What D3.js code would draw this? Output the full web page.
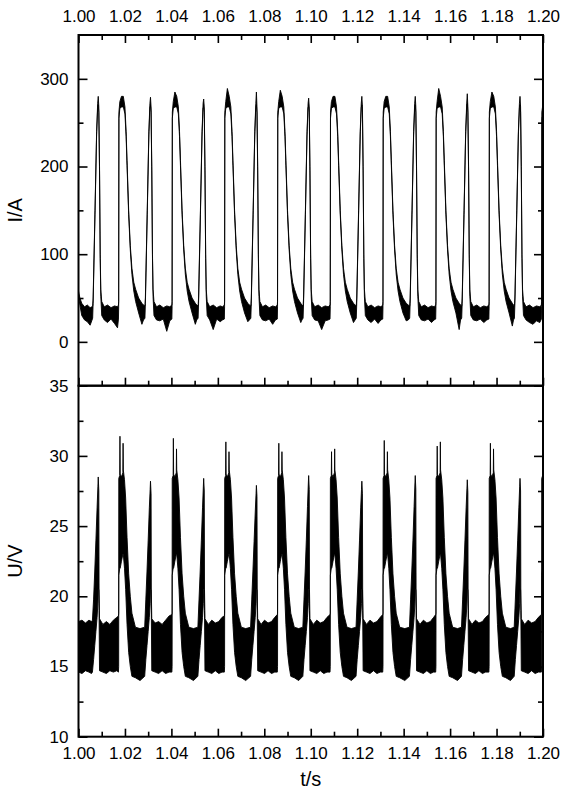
<!DOCTYPE html>
<html><head><meta charset="utf-8">
<script src="https://cdn.jsdelivr.net/npm/d3@7/dist/d3.min.js"></script>
<style>
html,body{margin:0;padding:0;background:#fff;}
svg{display:block;font-family:"Liberation Sans",Arial,Helvetica,sans-serif;}
</style></head>
<body>
<svg id="chart" width="563" height="800"></svg>
<script>
// ---------- tick definitions ----------
const xMajorTicks = [1.00,1.02,1.04,1.06,1.08,1.10,1.12,1.14,1.16,1.18,1.20];
const xTickLabels = ["1.00","1.02","1.04","1.06","1.08","1.10","1.12","1.14","1.16","1.18","1.20"];
const xMinorTicks = [1.01,1.03,1.05,1.07,1.09,1.11,1.13,1.15,1.17,1.19];
const currentMajorTicks = [0,100,200,300];
const currentMinorTicks = [50,150,250];
const voltageMajorTicks = [10,15,20,25,30,35];
const voltageMinorTicks = [12.5,17.5,22.5,27.5,32.5];

// ---------- current trace: [ms after 1.00 s, min I/A, max I/A] ----------
const currentTrace = [
[0,52,58],[0.6,42,50],[1.4,30,44],[2.6,25,40],[3.8,23,42],[5.0,19,39],[5.7,24,40],
[6.1,27,41],[6.3,44,50],[7.1,145,150],[7.8,236,240],[8.25,267,272],[8.5,270,280],[8.75,262,268],[9.05,195,200],[9.35,95,100],[9.6,52,60],[10.0,30,46],
[11.1,25,40],[12.5,22,42],[14.0,26,39],[15.5,21,41],[16.8,16,40],
[17.2,26,42],[17.3,40,46],[17.4,255,262],[17.8,266,274],[18.5,268,280],[19.3,268,280],[20.0,260,268],[20.5,234,240],[20.9,201,207],[21.6,145,150],[22.3,105,110],[23.0,77,84],[23.8,58,68],[24.6,46,60],[25.9,33,50],[27.3,20,44],[28.0,25,42],
[28.6,27,41],[28.8,44,50],[29.6,145,150],[30.3,236,240],[30.75,267,272],[31.0,269,279],[31.25,262,268],[31.55,195,200],[31.85,95,100],[32.1,52,60],[32.5,30,46],
[33.6,25,40],[35.0,24,42],[36.5,26,39],[38.0,12,41],[39.3,24,40],
[40.2,26,42],[40.3,40,46],[40.4,255,262],[40.8,266,274],[41.5,268,285],[42.3,268,280],[43.0,260,268],[43.5,234,240],[43.9,201,207],[44.6,145,150],[45.3,105,110],[46.0,77,84],[46.8,58,68],[47.6,46,60],[48.9,33,50],[50.3,20,44],[50.9,25,42],
[51.5,27,41],[51.7,44,50],[52.5,145,150],[53.2,236,240],[53.65,267,272],[53.9,267,277],[54.15,262,268],[54.45,195,200],[54.75,95,100],[55.0,52,60],[55.4,30,46],
[56.5,25,40],[58.0,14,42],[59.5,26,39],[61.0,23,41],[62.0,25,40],
[62.8,26,42],[62.9,40,46],[63.0,255,262],[63.4,266,274],[64.1,268,289],[64.9,268,280],[65.6,260,268],[66.1,234,240],[66.5,201,207],[67.2,145,150],[67.9,105,110],[68.6,77,84],[69.4,58,68],[70.2,46,60],[71.5,33,50],[72.9,23,44],[73.6,25,42],
[74.2,27,41],[74.4,44,50],[75.2,145,150],[75.9,236,240],[76.35,267,272],[76.6,270,285],[76.85,262,268],[77.15,195,200],[77.45,95,100],[77.7,52,60],[78.1,30,46],
[79.2,25,40],[80.6,24,42],[82.1,26,39],[83.6,20,41],[84.8,25,40],
[85.6,26,42],[85.7,40,46],[85.8,255,262],[86.2,266,274],[86.9,268,287],[87.7,268,280],[88.4,260,268],[88.9,234,240],[89.3,201,207],[90.0,145,150],[90.7,105,110],[91.4,77,84],[92.2,58,68],[93.0,46,60],[94.3,33,50],[95.7,22,44],[96.2,25,42],
[96.7,27,41],[96.9,44,50],[97.7,145,150],[98.4,236,240],[98.85,267,272],[99.1,268,278],[99.35,262,268],[99.65,195,200],[99.95,95,100],[100.2,52,60],[100.6,30,46],
[101.7,25,40],[103.2,24,42],[104.7,14,39],[106.2,24,41],[107.5,25,40],
[108.3,26,42],[108.4,40,46],[108.5,255,262],[108.9,266,274],[109.6,268,280],[110.4,268,280],[111.1,260,268],[111.6,234,240],[112.0,201,207],[112.7,145,150],[113.4,105,110],[114.1,77,84],[114.9,58,68],[115.7,46,60],[117.0,33,50],[118.4,22,44],[119.1,25,42],
[119.6,27,41],[119.8,44,50],[120.6,145,150],[121.3,236,240],[121.75,267,272],[122.0,270,280],[122.25,262,268],[122.55,195,200],[122.85,95,100],[123.1,52,60],[123.5,30,46],
[124.6,25,40],[126.0,22,42],[127.5,26,39],[129.0,21,41],[130.2,25,40],
[131.0,26,42],[131.1,40,46],[131.2,255,262],[131.6,266,274],[132.3,268,280],[133.1,268,280],[133.8,260,268],[134.3,234,240],[134.7,201,207],[135.4,145,150],[136.1,105,110],[136.8,77,84],[137.6,58,68],[138.4,46,60],[139.7,33,50],[141.1,24,44],[142.0,25,42],
[142.6,27,41],[142.8,44,50],[143.6,145,150],[144.3,236,240],[144.75,267,272],[145.0,270,280],[145.25,262,268],[145.55,195,200],[145.85,95,100],[146.1,52,60],[146.5,30,46],
[147.6,25,40],[149.0,24,42],[150.5,26,39],[152.0,22,41],[153.1,25,40],
[153.8,26,42],[153.9,40,46],[154.0,255,262],[154.4,266,274],[155.1,268,289],[155.9,268,280],[156.6,260,268],[157.1,234,240],[157.5,201,207],[158.2,145,150],[158.9,105,110],[159.6,77,84],[160.4,58,68],[161.2,46,60],[162.5,33,50],[163.9,14,44],[164.5,25,42],
[165.0,27,41],[165.2,44,50],[166.0,145,150],[166.7,236,240],[167.15,267,272],[167.4,272,283],[167.65,262,268],[167.95,195,200],[168.25,95,100],[168.5,52,60],[168.9,30,46],
[170.0,25,40],[171.5,24,42],[173.0,26,39],[174.5,22,41],[175.8,25,40],
[176.7,26,42],[176.8,40,46],[176.9,255,262],[177.3,266,274],[178.0,268,285],[178.8,268,280],[179.5,260,268],[180.0,234,240],[180.4,201,207],[181.1,145,150],[181.8,105,110],[182.5,77,84],[183.3,58,68],[184.1,46,60],[185.4,33,50],[186.8,18,44],[187.3,25,42],
[187.7,27,41],[187.9,44,50],[188.7,145,150],[189.4,236,240],[189.85,267,272],[190.1,270,280],[190.35,262,268],[190.65,195,200],[190.95,95,100],[191.2,52,60],[191.6,30,46],
[192.7,25,40],[194.2,22,42],[195.7,20,39],[197.2,24,41],[198.6,22,40],
[199.3,26,42],[199.4,40,46],[199.5,255,262],[199.9,258,270],[200.0,260,268]
];

// ---------- voltage trace: [ms after 1.00 s, min U/V, max U/V] ----------
const voltageTrace = [
[0,14.6,18.2],[1.5,14.5,18.3],[3.0,14.7,18.1],[4.5,14.6,18.3],[5.6,14.5,18.2],
[6.0,14.6,18.3],[6.5,15.5,19.8],[7.0,16.5,21.8],[7.5,17.5,24.0],[8.0,18.5,26.3],[8.35,19.5,27.8],[8.5,20.5,28.5],[8.75,20.5,27.5],[8.85,19.0,20.5],[9.05,14.7,18.4],
[10.5,14.6,18.0],[12.0,14.5,18.2],[13.5,14.7,18.0],[15.0,14.6,18.3],[16.5,14.7,18.5],[17.2,14.6,18.6],
[17.3,15.0,18.8],[17.35,21.5,28.4],[17.75,22,28.6],[17.85,22,31.4],[17.95,22,28.7],[18.5,22.5,28.5],[19.1,23,28.8],[19.2,23,30.9],[19.3,23,29],[19.8,22,28.3],[20.3,20.5,27],[20.9,18,24.2],[21.6,16,21.6],[22.3,15,20],[23.0,14.3,18.8],[24.5,14.2,17.8],[26.5,14.0,17.7],
[28.5,14.3,17.8],[29.0,15.5,19.8],[29.5,16.5,21.8],[30.0,17.5,24.0],[30.5,18.5,26.3],[30.85,19.5,27.6],[31.0,20.5,28.2],[31.25,20.5,27.3],[31.35,19.0,20.5],[31.55,14.7,18.4],
[33.0,14.6,18.1],[34.5,14.5,18.2],[36.0,14.7,18.0],[37.5,14.5,18.3],[39.0,14.6,18.6],[40.2,14.6,18.7],
[40.3,15,18.8],[40.35,21.5,28.4],[40.75,22,28.6],[40.85,22,31.25],[40.95,22,28.7],[41.5,22.5,28.5],[42.1,23,28.8],[42.2,23,30.5],[42.3,23,29],[42.8,22,28.3],[43.3,20.5,27],[43.9,18,24.2],[44.6,16,21.6],[45.3,15,20],[46.0,14.3,18.8],[47.5,14.2,17.8],[49.5,14.0,17.7],
[51.4,14.3,17.8],[51.9,15.5,19.8],[52.4,16.5,21.8],[52.9,17.5,24.0],[53.4,18.5,26.3],[53.75,19.5,27.8],[53.9,20.5,28.4],[54.15,20.5,27.5],[54.25,19,20.5],[54.45,14.7,18.4],
[55.9,14.6,18.0],[57.4,14.5,18.3],[58.9,14.7,18.1],[60.4,14.5,18.2],[61.8,14.6,18.5],[62.8,14.6,18.6],
[62.9,15,18.8],[62.95,21.5,28.4],[63.35,22,28.6],[63.45,22,31.0],[63.55,22,28.7],[64.1,22.5,28.5],[64.7,23,28.8],[64.8,23,30.3],[64.9,23,29],[65.4,22,28.3],[65.9,20.5,27],[66.5,18,24.2],[67.2,16,21.6],[67.9,15,20],[68.6,14.3,18.8],[70.1,14.2,17.8],[72.0,14.0,17.7],
[74.1,14.3,17.8],[74.6,15.5,19.8],[75.1,16.5,21.8],[75.6,17.5,23.9],[76.1,18.5,26.0],[76.45,19.5,27.3],[76.6,20.5,27.9],[76.85,20.5,27.1],[76.95,19,20.5],[77.15,14.7,18.4],
[78.6,14.6,18.0],[80.1,14.5,18.3],[81.6,14.7,18.1],[83.1,14.5,18.2],[84.5,14.6,18.5],[85.6,14.6,18.7],
[85.7,15,18.8],[85.75,21.5,28.4],[86.15,22,28.6],[86.25,22,30.9],[86.35,22,28.7],[86.9,22.5,28.5],[87.5,23,28.8],[87.6,23,30.3],[87.7,23,29],[88.2,22,28.3],[88.7,20.5,27],[89.3,18,24.2],[90.0,16,21.6],[90.7,15,20],[91.4,14.3,18.8],[92.9,14.2,17.8],[94.8,14.0,17.7],
[96.6,14.3,17.8],[97.1,15.5,19.8],[97.6,16.5,21.8],[98.1,17.5,24.0],[98.6,18.5,26.4],[98.95,19.5,28.0],[99.1,20.5,28.6],[99.35,20.5,27.6],[99.45,19,20.5],[99.65,14.7,18.4],
[101.1,14.6,18.0],[102.6,14.5,18.3],[104.1,14.7,18.1],[105.6,14.5,18.2],[107.0,14.6,18.5],[108.3,14.6,18.7],
[108.4,15,18.8],[108.45,21.5,28.4],[108.85,22,28.6],[108.95,22,30.3],[109.05,22,28.7],[109.6,22.5,28.5],[110.2,23,28.8],[110.3,23,30.5],[110.4,23,29],[110.9,22,28.3],[111.4,20.5,27],[112.0,18,24.2],[112.7,16,21.6],[113.4,15,20],[114.1,14.3,18.8],[115.6,14.2,17.8],[117.5,14.0,17.7],
[119.5,14.3,17.8],[120.0,15.5,19.8],[120.5,16.5,21.8],[121.0,17.5,24.0],[121.5,18.5,26.3],[121.85,19.5,27.6],[122.0,20.5,28.2],[122.25,20.5,27.3],[122.35,19,20.5],[122.55,14.7,18.4],
[124.0,14.6,18.0],[125.5,14.5,18.3],[127.0,14.7,18.1],[128.5,14.5,18.2],[129.9,14.6,18.5],[131.0,14.6,18.7],
[131.1,15,18.8],[131.15,21.5,28.4],[131.55,22,28.6],[131.65,22,31.1],[131.75,22,28.7],[132.3,22.5,28.5],[132.9,23,28.8],[133.0,23,30.3],[133.1,23,29],[133.6,22,28.3],[134.1,20.5,27],[134.7,18,24.2],[135.4,16,21.6],[136.1,15,20],[136.8,14.3,18.8],[138.3,14.2,17.8],[140.5,14.0,17.7],
[142.5,14.3,17.8],[143.0,15.5,19.8],[143.5,16.5,21.8],[144.0,17.5,24.0],[144.5,18.5,26.4],[144.85,19.5,28.0],[145.0,20.5,28.6],[145.25,20.5,27.6],[145.35,19,20.5],[145.55,14.7,18.4],
[147.0,14.6,18.0],[148.5,14.5,18.3],[150.0,14.7,18.1],[151.5,14.5,18.2],[152.9,14.6,18.5],[153.8,14.6,18.7],
[153.9,15,18.8],[153.95,21.5,28.4],[154.35,22,28.6],[154.45,22,30.7],[154.55,22,28.7],[155.1,22.5,28.5],[155.7,23,28.8],[155.8,23,31.0],[155.9,23,29],[156.4,22,28.3],[156.9,20.5,27],[157.5,18,24.2],[158.2,16,21.6],[158.9,15,20],[159.6,14.3,18.8],[161.1,14.2,17.8],[163.2,14.0,17.7],
[164.9,14.3,17.8],[165.4,15.5,19.8],[165.9,16.5,21.8],[166.4,17.5,24.0],[166.9,18.5,26.3],[167.25,19.5,27.7],[167.4,20.5,28.3],[167.65,20.5,27.4],[167.75,19,20.5],[167.95,14.7,18.4],
[169.4,14.6,18.0],[170.9,14.5,18.3],[172.4,14.7,18.1],[173.9,14.5,18.2],[175.3,14.6,18.5],[176.7,14.6,18.7],
[176.8,15,18.8],[176.85,21.5,28.4],[177.25,22,28.6],[177.35,22,30.9],[177.45,22,28.7],[178.0,22.5,28.5],[178.6,23,28.8],[178.7,23,30.5],[178.8,23,29],[179.3,22,28.3],[179.8,20.5,27],[180.4,18,24.2],[181.1,16,21.6],[181.8,15,20],[182.5,14.3,18.8],[184.0,14.2,17.8],[186.0,14.0,17.7],
[187.6,14.3,17.8],[188.1,15.5,19.8],[188.6,16.5,21.8],[189.1,17.5,24.0],[189.6,18.5,26.3],[189.95,19.5,27.8],[190.1,20.5,28.4],[190.35,20.5,27.5],[190.45,19,20.5],[190.65,14.7,18.4],
[192.1,14.6,18.0],[193.6,14.5,18.3],[195.1,14.7,18.1],[196.6,14.5,18.2],[198.0,14.6,18.5],[199.3,14.6,18.7],
[199.4,15,18.8],[199.45,21.5,28.4],[199.85,22,28.6],[199.95,22,31.25],[200.0,22,29]
];

// ---------- layout ----------
const L = 78.5, R = 543;
const topY0 = 35, midY = 385.7, botY = 736.7;

const svg = d3.select("#chart");
const x = d3.scaleLinear().domain([1.0, 1.2]).range([L, R]);
const yI = d3.scaleLinear().domain([-50, 350]).range([midY, topY0]);
const yU = d3.scaleLinear().domain([10, 35]).range([botY, midY]);
const tSec = d => 1 + d[0] / 1000;

const defs = svg.append("defs");
defs.append("clipPath").attr("id","clipTop").append("rect")
  .attr("x", L).attr("y", topY0).attr("width", R - L).attr("height", midY - topY0);
defs.append("clipPath").attr("id","clipBot").append("rect")
  .attr("x", L).attr("y", midY).attr("width", R - L).attr("height", botY - midY);

// traces
const areaI = d3.area().x(d => x(tSec(d))).y0(d => yI(d[1])).y1(d => yI(d[2]));
const areaU = d3.area().x(d => x(tSec(d))).y0(d => yU(d[1])).y1(d => yU(d[2]));

svg.append("path").datum(currentTrace).attr("clip-path","url(#clipTop)")
  .attr("d", areaI).attr("fill","#000").attr("stroke","#000").attr("stroke-width",0.9).attr("stroke-linejoin","round");
svg.append("path").datum(voltageTrace).attr("clip-path","url(#clipBot)")
  .attr("d", areaU).attr("fill","#000").attr("stroke","#000").attr("stroke-width",0.9).attr("stroke-linejoin","round");

// axes helper
function styleAxis(g){
  g.select(".domain").remove();
  g.selectAll(".tick line").attr("stroke","#000").attr("stroke-width",1.6);
  g.selectAll(".tick text").attr("fill","#000").attr("font-size","17px")
    .attr("font-family",'"Liberation Sans",Arial,sans-serif');
}
function addAxis(axis, tx, ty){
  const g = svg.append("g").attr("transform", `translate(${tx},${ty})`).call(axis);
  styleAxis(g);
  return g;
}
const lbl = (d) => xTickLabels[xMajorTicks.indexOf(d)];

// top panel
addAxis(d3.axisTop(x).tickValues(xMajorTicks).tickSize(-8).tickPadding(13).tickFormat(lbl), 0, topY0);
addAxis(d3.axisTop(x).tickValues(xMinorTicks).tickSize(-5).tickFormat(""), 0, topY0);
addAxis(d3.axisBottom(x).tickValues(xMajorTicks).tickSize(-8).tickFormat(""), 0, midY);
addAxis(d3.axisBottom(x).tickValues(xMinorTicks).tickSize(-5).tickFormat(""), 0, midY);
addAxis(d3.axisLeft(yI).tickValues(currentMajorTicks).tickSize(-9).tickPadding(10).tickFormat(d3.format("d")), L, 0);
addAxis(d3.axisLeft(yI).tickValues(currentMinorTicks).tickSize(-5).tickFormat(""), L, 0);
addAxis(d3.axisRight(yI).tickValues(currentMajorTicks).tickSize(-9).tickFormat(""), R, 0);
addAxis(d3.axisRight(yI).tickValues(currentMinorTicks).tickSize(-5).tickFormat(""), R, 0);

// bottom panel
addAxis(d3.axisBottom(x).tickValues(xMajorTicks).tickSize(-8).tickPadding(10).tickFormat(lbl), 0, botY);
addAxis(d3.axisBottom(x).tickValues(xMinorTicks).tickSize(-5).tickFormat(""), 0, botY);
addAxis(d3.axisLeft(yU).tickValues(voltageMajorTicks).tickSize(-9).tickPadding(10).tickFormat(d3.format("d")), L, 0);
addAxis(d3.axisLeft(yU).tickValues(voltageMinorTicks).tickSize(-5).tickFormat(""), L, 0);
addAxis(d3.axisRight(yU).tickValues(voltageMajorTicks).tickSize(-9).tickFormat(""), R, 0);
addAxis(d3.axisRight(yU).tickValues(voltageMinorTicks).tickSize(-5).tickFormat(""), R, 0);

// frames
svg.append("rect").attr("x",L).attr("y",topY0).attr("width",R-L).attr("height",midY-topY0)
  .attr("fill","none").attr("stroke","#000").attr("stroke-width",2);
svg.append("rect").attr("x",L).attr("y",midY).attr("width",R-L).attr("height",botY-midY)
  .attr("fill","none").attr("stroke","#000").attr("stroke-width",2);

// titles
svg.append("text").attr("transform",`translate(22,${(yI(200)+yI(100))/2}) rotate(-90)`)
  .attr("text-anchor","middle").attr("font-size","20px").attr("fill","#000").text("I/A");
svg.append("text").attr("transform",`translate(22,${(yU(25)+yU(20))/2}) rotate(-90)`)
  .attr("text-anchor","middle").attr("font-size","20px").attr("fill","#000").text("U/V");
svg.append("text").attr("x",(L+R)/2).attr("y",786)
  .attr("text-anchor","middle").attr("font-size","20px").attr("fill","#000").text("t/s");
</script>
</body></html>
